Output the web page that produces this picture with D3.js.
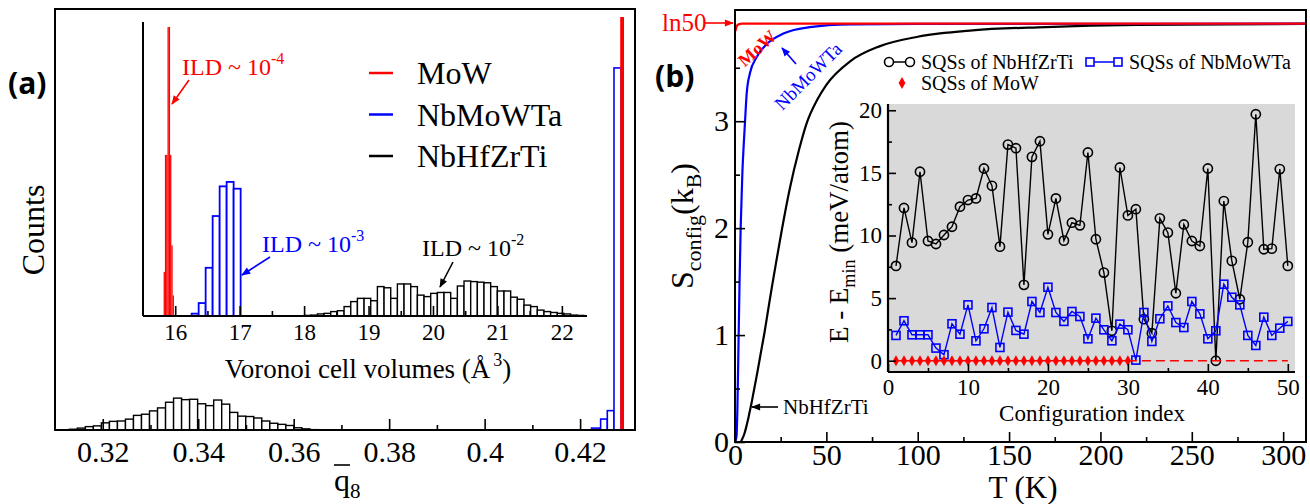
<!DOCTYPE html>
<html><head><meta charset="utf-8">
<script src="https://cdn.jsdelivr.net/npm/d3@7"></script>
<style>body{margin:0;background:#fff} svg{display:block}</style>
</head><body><svg id="c" width="1310" height="504" font-family='"Liberation Serif","Times New Roman",serif'></svg>
<script>
// ---------------- DATA ----------------
// Panel (a) main: q8 histograms
const aMainTicks = [0.32, 0.34, 0.36, 0.38, 0.40, 0.42];
const aMainTickLabels = ["0.32", "0.34", "0.36", "0.38", "0.4", "0.42"];
const aMainMinorTicks = [0.33, 0.35, 0.37, 0.39, 0.41];
const aMainBlackStart = 0.3130, aMainBlackWidth = 0.00168;
const aMainBlackCounts = [1.8, 4.5, 8, 9.8, 17, 20.5, 21.4, 25.8, 34.7, 37.4, 45.4, 52.5, 65.9, 75.7, 72.1, 73, 62.3, 57.9, 71.2, 61.4, 41.8, 32.9, 32, 28.5, 21.4, 16, 13.4, 10.7, 5.3, 2.7, 0.9, 0.7, 0.7, 0.6, 0.5, 0.5];
const aMainBlueEdges = [0.4224, 0.4243, 0.4257, 0.4271, 0.4286];
const aMainBlueCounts = [4.5, 26, 46, 860];
const aMainRedEdges = [0.4284, 0.4292];
const aMainRedCounts = [981];
// Panel (a) inset: Voronoi cell volumes
const insetTicks = [16, 17, 18, 19, 20, 21, 22];
const insetTickLabels = ["16", "17", "18", "19", "20", "21", "22"];
const insetMinorTicks = [16.5, 17.5, 18.5, 19.5, 20.5, 21.5];
const insetRedStart = 15.82, insetRedWidth = 0.02;
const insetRedCounts = [150, 548, 548, 983, 983, 548, 240, 70];
const insetBlueStart = 16.255, insetBlueWidth = 0.1086;
const insetBlueCounts = [8, 44, 164, 340, 441, 456, 433];
const insetBlackStart = 18.0, insetBlackWidth = 0.1034;
const insetBlackCounts = [2, 3, 7, 9, 15, 18, 32, 49, 60, 60, 52, 100, 96, 60, 109, 109, 100, 71, 66, 77, 80, 80, 60, 102, 119, 117, 115, 113, 100, 85, 85, 64, 57, 37, 32, 20, 15, 12, 9, 7, 3, 2];
const legendA = ["MoW", "NbMoWTa", "NbHfZrTi"];
const colorsA = ["#ff0000", "#0000ff", "#000000"];

// Panel (b) main: S_config(T)
const bXTicks = [0, 50, 100, 150, 200, 250, 300];
const bXMinor = [25, 75, 125, 175, 225, 275];
const bYTicks = [0, 1, 2, 3];
const bYMinor = [0.5, 1.5, 2.5, 3.5];
const tMoW = [0.2, 0.6, 1, 1.5, 2, 3, 4, 312];
const sMoW = [3.84, 3.87, 3.89, 3.90, 3.907, 3.911, 3.912, 3.912];
const tNbMoWTa = [0, 0.8, 1.3, 2.0, 2.5, 3.1, 4, 5, 5.5, 6.4, 8.2, 11.9, 17.3, 26.5, 41, 63, 100, 312];
const sNbMoWTa = [0, 0.05, 0.3, 1.0, 1.5, 2.0, 2.5, 2.85, 3.0, 3.26, 3.45, 3.6, 3.72, 3.82, 3.88, 3.905, 3.91, 3.912];
const tNbHfZrTi = [0, 3, 4, 5, 6, 7, 8, 9, 10, 12, 14, 16.4, 18, 20, 22.5, 25.6, 30, 35, 39.2, 45, 50, 63, 79, 100, 130, 170, 220, 312];
const sNbHfZrTi = [0, 0, 0.03, 0.07, 0.13, 0.2, 0.28, 0.36, 0.45, 0.63, 0.82, 1.05, 1.22, 1.43, 1.68, 1.98, 2.37, 2.73, 2.98, 3.2, 3.34, 3.56, 3.7, 3.79, 3.85, 3.88, 3.9, 3.91];

// Panel (b) inset: E - Emin per configuration
const configIndex = d3.range(1, 51);
const eNbHfZrTi = [7.57, 12.2, 9.43, 15.09, 9.56, 9.32, 10.04, 10.7, 12.3, 12.83, 12.96, 15.35, 13.97, 9.11, 17.26, 16.97, 6.06, 16.28, 17.53, 10.09, 12.96, 9.59, 11.02, 10.81, 16.63, 9.7, 7.04, 2.39, 15.43, 11.6, 12.1, 3.32, 2.2, 11.37, 10.23, 5.39, 10.88, 9.56, 9.16, 15.35, 0, 12.75, 7.97, 4.91, 9.46, 19.68, 8.9, 8.95, 15.3, 7.57];
const eNbMoWTa = [2.02, 3.19, 2.07, 2.07, 2.07, 1.01, 0.48, 2.95, 2.12, 4.46, 1.59, 2.55, 4.25, 1.06, 3.88, 2.42, 2.12, 4.73, 3.85, 5.87, 3.85, 3.14, 3.93, 3.53, 1.75, 3.4, 2.47, 1.59, 2.92, 2.47, 0.05, 3.85, 1.54, 3.35, 4.38, 3.05, 2.65, 4.73, 3.74, 1.75, 2.39, 6.11, 5.07, 4.46, 2.02, 1.22, 3.48, 2.02, 2.6, 3.14];
const eMoW = [0, 0, 0, 0, 0, 0, 0, 0, 0, 0, 0, 0, 0, 0, 0, 0, 0, 0, 0, 0, 0, 0, 0, 0, 0, 0, 0, 0, 0, 0];
const mowDashedIdx = [30, 50];
const mowDashedE = [0, 0];
const eXTicks = [0, 10, 20, 30, 40, 50];
const eXMinor = [5, 15, 25, 35, 45];
const eYTicks = [0, 5, 10, 15, 20];
const eYMinor = [2.5, 7.5, 12.5, 17.5];
const legendB = ["SQSs of NbHfZrTi", "SQSs of NbMoWTa", "SQSs of MoW"];

// ---------------- DRAW ----------------
const SERIF = '"Liberation Serif","Times New Roman",serif';
const SANS = '"Open Sans","Noto Sans",sans-serif';
const svg = d3.select("#c");
svg.append("rect").attr("width", 1310).attr("height", 504).attr("fill", "#fff");
const defs = svg.append("defs");
function marker(id, color) {
  defs.append("marker").attr("id", id).attr("viewBox", "0 0 10 10").attr("refX", 9).attr("refY", 5)
    .attr("markerWidth", 10).attr("markerHeight", 9).attr("markerUnits", "userSpaceOnUse").attr("orient", "auto")
    .append("path").attr("d", "M0,1 L10,5 L0,9 Z").attr("fill", color);
}
marker("arR", "#ff0000"); marker("arB", "#0000ff"); marker("arK", "#000");

function rich(parent, x, y, parts, o = {}) {
  const t = parent.append("text").attr("x", x).attr("y", y).attr("font-size", o.size || 20)
    .attr("fill", o.color || "#000").attr("text-anchor", o.anchor || "start").attr("font-family", o.family || SERIF);
  if (o.transform) t.attr("transform", o.transform);
  if (o.weight) t.attr("font-weight", o.weight);
  parts.forEach(p => {
    const s = t.append("tspan").text(p.t);
    if (p.size) s.attr("font-size", p.size);
    if (p.dy) s.attr("dy", p.dy);
    if (p.dx) s.attr("dx", p.dx);
  });
  return t;
}
function arrow(parent, x1, y1, x2, y2, color, m) {
  parent.append("line").attr("x1", x1).attr("y1", y1).attr("x2", x2).attr("y2", y2)
    .attr("stroke", color).attr("stroke-width", 1.6).attr("marker-end", `url(#${m})`);
}
function styleAxis(g, size) {
  g.attr("font-family", SERIF).attr("font-size", size);
  g.select(".domain").remove();
  g.selectAll(".tick line").attr("stroke", "#000").attr("stroke-width", 1.6);
  g.selectAll(".tick text").attr("fill", "#000");
}
function binsUniform(g, x, y, start, width, counts, stroke, fill, sw) {
  g.selectAll(null).data(counts).join("rect")
    .attr("x", (d, i) => x(start + i * width))
    .attr("width", (d, i) => x(start + (i + 1) * width) - x(start + i * width))
    .attr("y", d => y(d)).attr("height", d => y(0) - y(d))
    .attr("fill", fill).attr("stroke", stroke).attr("stroke-width", sw);
}
function binsEdges(g, x, y, edges, counts, stroke, fill, sw) {
  g.selectAll(null).data(counts).join("rect")
    .attr("x", (d, i) => x(edges[i])).attr("width", (d, i) => x(edges[i + 1]) - x(edges[i]))
    .attr("y", d => y(d)).attr("height", d => y(0) - y(d))
    .attr("fill", fill).attr("stroke", stroke).attr("stroke-width", sw);
}

// ===== Panel (a) =====
const gA = svg.append("g");
const xA = d3.scaleLinear([0.31, 0.4315], [55, 635]);
const yA = d3.scaleLinear([0, 1000], [430, 9]);
binsUniform(gA, xA, yA, aMainBlackStart, aMainBlackWidth, aMainBlackCounts, "#000", "#fff", 1.4);
binsEdges(gA, xA, yA, aMainBlueEdges, aMainBlueCounts, "#0000ff", "#fff", 1.6);
binsEdges(gA, xA, yA, aMainRedEdges, aMainRedCounts, "none", "#ff0000", 0);

gA.append("g").attr("transform", "translate(0,430)")
  .call(d3.axisBottom(xA).tickValues(aMainTicks).tickFormat((d, i) => aMainTickLabels[i]).tickSizeInner(-11).tickSizeOuter(0).tickPadding(11))
  .call(g => styleAxis(g, 30));
gA.append("g").attr("transform", "translate(0,430)")
  .call(d3.axisBottom(xA).tickValues(aMainMinorTicks).tickFormat("").tickSizeInner(-5).tickSizeOuter(0))
  .call(g => styleAxis(g, 30));
gA.append("rect").attr("x", 55).attr("y", 9).attr("width", 580).attr("height", 421)
  .attr("fill", "none").attr("stroke", "#000").attr("stroke-width", 2);

// inset
const xI = d3.scaleLinear([15.5, 22.39], [143, 587]);
const yI = d3.scaleLinear([0, 1000], [316, 22]);
binsUniform(gA, xI, yI, insetBlackStart, insetBlackWidth, insetBlackCounts, "#000", "#fff", 1.4);
binsUniform(gA, xI, yI, insetBlueStart, insetBlueWidth, insetBlueCounts, "#0000ff", "#fff", 1.8);
binsUniform(gA, xI, yI, insetRedStart, insetRedWidth, insetRedCounts, "none", "#ff0000", 0);
gA.append("g").attr("transform", "translate(0,316)")
  .call(d3.axisBottom(xI).tickValues(insetTicks).tickFormat((d, i) => insetTickLabels[i]).tickSizeInner(-10).tickSizeOuter(0).tickPadding(8))
  .call(g => styleAxis(g, 23));
gA.append("g").attr("transform", "translate(0,316)")
  .call(d3.axisBottom(xI).tickValues(insetMinorTicks).tickFormat("").tickSizeInner(-5).tickSizeOuter(0))
  .call(g => styleAxis(g, 23));
gA.append("line").attr("x1", 143).attr("x2", 587).attr("y1", 316).attr("y2", 316).attr("stroke", "#000").attr("stroke-width", 2);
gA.append("line").attr("x1", 143).attr("x2", 143).attr("y1", 22).attr("y2", 316).attr("stroke", "#000").attr("stroke-width", 2);
rich(gA, 368, 378, [{ t: "Voronoi cell volumes (Å" }, { t: "3", size: 18, dy: -12, dx: 3 }, { t: ")", dy: 12 }], { size: 27, anchor: "middle" });

// legend (a)
legendA.forEach((name, i) => {
  const y = 73 + i * 41.5;
  gA.append("line").attr("x1", 369).attr("x2", 393).attr("y1", y).attr("y2", y).attr("stroke", colorsA[i]).attr("stroke-width", 2.5);
  gA.append("text").attr("x", 417).attr("y", y + 11).attr("font-size", 32).attr("font-family", SERIF).text(name);
});
// ILD annotations
rich(gA, 182, 75, [{ t: "ILD ~ 10" }, { t: "-4", size: 16, dy: -11 }], { size: 24, color: "#ff0000" });
arrow(gA, 189, 80, 172, 104, "#ff0000", "arR");
rich(gA, 262, 252, [{ t: "ILD ~ 10" }, { t: "-3", size: 16, dy: -11 }], { size: 24, color: "#0000ff" });
arrow(gA, 270, 257, 242, 275, "#0000ff", "arB");
rich(gA, 422, 256, [{ t: "ILD ~ 10" }, { t: "-2", size: 16, dy: -11 }], { size: 24, color: "#000" });
arrow(gA, 453, 262, 440, 287, "#000", "arK");

// axis labels (a)
gA.append("text").attr("transform", "translate(44,230) rotate(-90)").attr("text-anchor", "middle").attr("font-size", 32).attr("font-family", SERIF).text("Counts");
rich(gA, 334, 491, [{ t: "q" }, { t: "8", size: 21, dy: 7 }], { size: 32 });
gA.append("line").attr("x1", 334).attr("x2", 350).attr("y1", 465).attr("y2", 465).attr("stroke", "#000").attr("stroke-width", 1.6);
gA.append("text").attr("x", 8).attr("y", 94).attr("font-family", SANS).attr("font-weight", 700).attr("font-size", 30).text("(a)");

// ===== Panel (b) =====
const gB = svg.append("g");
const xB = d3.scaleLinear([0, 312.5], [735, 1306]);
const yB = d3.scaleLinear([0, 4.04], [442, 10]);
defs.append("clipPath").attr("id", "clipB").append("rect").attr("x", 735).attr("y", 10).attr("width", 571).attr("height", 432);
const lineB = d3.line().x(d => xB(d[0])).y(d => yB(d[1])).curve(d3.curveMonotoneX);
const curves = [[tNbHfZrTi, sNbHfZrTi, "#000"], [tNbMoWTa, sNbMoWTa, "#0000ff"], [tMoW, sMoW, "#ff0000"]];
const gC = gB.append("g").attr("clip-path", "url(#clipB)");
curves.forEach(([t, s, c]) => {
  gC.append("path").attr("d", lineB(t.map((v, i) => [v, s[i]]))).attr("fill", "none").attr("stroke", c).attr("stroke-width", 2.2);
});
gB.append("g").attr("transform", "translate(0,442)")
  .call(d3.axisBottom(xB).tickValues(bXTicks).tickFormat(d3.format("d")).tickSizeInner(-10).tickSizeOuter(0).tickPadding(2))
  .call(g => styleAxis(g, 30));
gB.append("g").attr("transform", "translate(0,442)")
  .call(d3.axisBottom(xB).tickValues(bXMinor).tickFormat("").tickSizeInner(-5).tickSizeOuter(0))
  .call(g => styleAxis(g, 30));
gB.append("g").attr("transform", "translate(735,0)")
  .call(d3.axisLeft(yB).tickValues(bYTicks).tickFormat(d3.format("d")).tickSizeInner(-10).tickSizeOuter(0).tickPadding(6))
  .call(g => styleAxis(g, 30));
gB.append("g").attr("transform", "translate(735,0)")
  .call(d3.axisLeft(yB).tickValues(bYMinor).tickFormat("").tickSizeInner(-5).tickSizeOuter(0))
  .call(g => styleAxis(g, 30));
gB.append("rect").attr("x", 735).attr("y", 10).attr("width", 571).attr("height", 432)
  .attr("fill", "none").attr("stroke", "#000").attr("stroke-width", 2);

// annotations (b)
gB.append("text").attr("x", 662).attr("y", 31).attr("font-size", 25).attr("font-family", SERIF).attr("fill", "#ff0000").text("ln50");
arrow(gB, 705, 23, 733, 23, "#ff0000", "arR");
gB.append("text").attr("transform", "translate(757,48) rotate(-42)").attr("text-anchor", "middle").attr("dy", "0.35em")
  .attr("font-size", 18).attr("font-weight", 700).attr("font-family", SERIF).attr("fill", "#ff0000").text("MoW");
gB.append("text").attr("transform", "translate(808,76) rotate(-45)").attr("text-anchor", "middle").attr("dy", "0.35em")
  .attr("font-size", 19).attr("font-family", SERIF).attr("fill", "#0000ff").text("NbMoWTa");
arrow(gB, 796, 64, 782, 48, "#0000ff", "arB");
arrow(gB, 778, 407, 752, 407, "#000", "arK");
gB.append("text").attr("x", 783).attr("y", 414).attr("font-size", 21).attr("font-family", SERIF).text("NbHfZrTi");
gB.append("text").attr("x", 655).attr("y", 87).attr("font-family", SANS).attr("font-weight", 700).attr("font-size", 30).text("(b)");
rich(gB, 0, 0, [{ t: "S" }, { t: "config", size: 22, dy: 8 }, { t: "(k", dy: -8 }, { t: "B", size: 22, dy: 8 }, { t: ")", dy: -8 }],
  { size: 32, anchor: "middle", transform: "translate(693,226) rotate(-90)" });
gB.append("text").attr("x", 1023).attr("y", 498).attr("text-anchor", "middle").attr("font-size", 31).attr("font-family", SERIF).text("T (K)");

// legend (b)
const lgY1 = 62, lgY2 = 83;
gB.append("line").attr("x1", 886).attr("x2", 913).attr("y1", lgY1).attr("y2", lgY1).attr("stroke", "#000").attr("stroke-width", 1.5);
[889, 910].forEach(cx => gB.append("circle").attr("cx", cx).attr("cy", lgY1).attr("r", 4.5).attr("fill", "#fff").attr("stroke", "#000").attr("stroke-width", 1.6));
gB.append("text").attr("x", 921).attr("y", lgY1 + 7).attr("font-size", 20).attr("font-family", SERIF).text(legendB[0]);
gB.append("line").attr("x1", 1088).attr("x2", 1120).attr("y1", lgY1).attr("y2", lgY1).attr("stroke", "#0000ff").attr("stroke-width", 1.5);
[1090, 1118].forEach(cx => gB.append("rect").attr("x", cx - 4).attr("y", lgY1 - 4).attr("width", 8).attr("height", 8).attr("fill", "#fff").attr("stroke", "#0000ff").attr("stroke-width", 1.6));
gB.append("text").attr("x", 1129).attr("y", lgY1 + 7).attr("font-size", 20).attr("font-family", SERIF).text(legendB[1]);
gB.append("path").attr("transform", `translate(902,${lgY2})`).attr("d", d3.symbol(d3.symbolDiamond, 40)()).attr("fill", "#ff0000");
gB.append("text").attr("x", 921).attr("y", lgY2 + 7).attr("font-size", 20).attr("font-family", SERIF).text(legendB[2]);

// ===== inset (b) =====
const gE = svg.append("g");
const xE = d3.scaleLinear([0, 50.9], [888, 1295]);
const yE = d3.scaleLinear([-0.9, 20.5], [372, 104]);
gE.append("rect").attr("x", 888).attr("y", 104).attr("width", 407).attr("height", 268).attr("fill", "#d9d9d9");
const lineE = d3.line().x(d => xE(d[0])).y(d => yE(d[1]));
const ptsK = configIndex.map((c, i) => [c, eNbHfZrTi[i]]);
const ptsB = configIndex.map((c, i) => [c, eNbMoWTa[i]]);
const ptsR = eMoW.map((e, i) => [configIndex[i], e]);
gE.append("path").attr("d", lineE(ptsK)).attr("fill", "none").attr("stroke", "#000").attr("stroke-width", 1.4);
gE.selectAll(null).data(ptsK).join("circle").attr("cx", d => xE(d[0])).attr("cy", d => yE(d[1])).attr("r", 4.6)
  .attr("fill", "none").attr("stroke", "#000").attr("stroke-width", 1.6);
gE.append("path").attr("d", lineE(ptsB)).attr("fill", "none").attr("stroke", "#0000ff").attr("stroke-width", 1.4);
gE.selectAll(null).data(ptsB).join("rect").attr("x", d => xE(d[0]) - 4).attr("y", d => yE(d[1]) - 4).attr("width", 8).attr("height", 8)
  .attr("fill", "none").attr("stroke", "#0000ff").attr("stroke-width", 1.6);
gE.append("path").attr("d", lineE(ptsR)).attr("fill", "none").attr("stroke", "#ff0000").attr("stroke-width", 1.4);
gE.append("path").attr("d", lineE(mowDashedIdx.map((c, i) => [c, mowDashedE[i]]))).attr("fill", "none").attr("stroke", "#ff0000").attr("stroke-width", 1.6).attr("stroke-dasharray", "9,5");
gE.selectAll(null).data(ptsR).join("path").attr("transform", d => `translate(${xE(d[0])},${yE(d[1])})`)
  .attr("d", d3.symbol(d3.symbolDiamond, 34)()).attr("fill", "#ff0000");

gE.append("g").attr("transform", "translate(0,372)")
  .call(d3.axisBottom(xE).tickValues(eXTicks).tickFormat(d3.format("d")).tickSizeInner(-8).tickSizeOuter(0).tickPadding(7))
  .call(g => styleAxis(g, 23));
gE.append("g").attr("transform", "translate(0,372)")
  .call(d3.axisBottom(xE).tickValues(eXMinor).tickFormat("").tickSizeInner(-4).tickSizeOuter(0))
  .call(g => styleAxis(g, 23));
gE.append("g").attr("transform", "translate(888,0)")
  .call(d3.axisLeft(yE).tickValues(eYTicks).tickFormat(d3.format("d")).tickSizeInner(-8).tickSizeOuter(0).tickPadding(6))
  .call(g => styleAxis(g, 23));
gE.append("g").attr("transform", "translate(888,0)")
  .call(d3.axisLeft(yE).tickValues(eYMinor).tickFormat("").tickSizeInner(-4).tickSizeOuter(0))
  .call(g => styleAxis(g, 23));
gE.append("line").attr("x1", 888).attr("x2", 1295).attr("y1", 372).attr("y2", 372).attr("stroke", "#000").attr("stroke-width", 2.2);
gE.append("line").attr("x1", 888).attr("x2", 888).attr("y1", 104).attr("y2", 372).attr("stroke", "#000").attr("stroke-width", 2.2);
gE.append("text").attr("x", 1092).attr("y", 421).attr("text-anchor", "middle").attr("font-size", 23).attr("font-family", SERIF).text("Configuration index");
rich(gE, 0, 0, [{ t: "E - E" }, { t: "min", size: 18, dy: 7 }, { t: " (meV/atom)", dy: -7 }],
  { size: 27, anchor: "middle", transform: "translate(848,232) rotate(-90)" });
</script></body></html>
